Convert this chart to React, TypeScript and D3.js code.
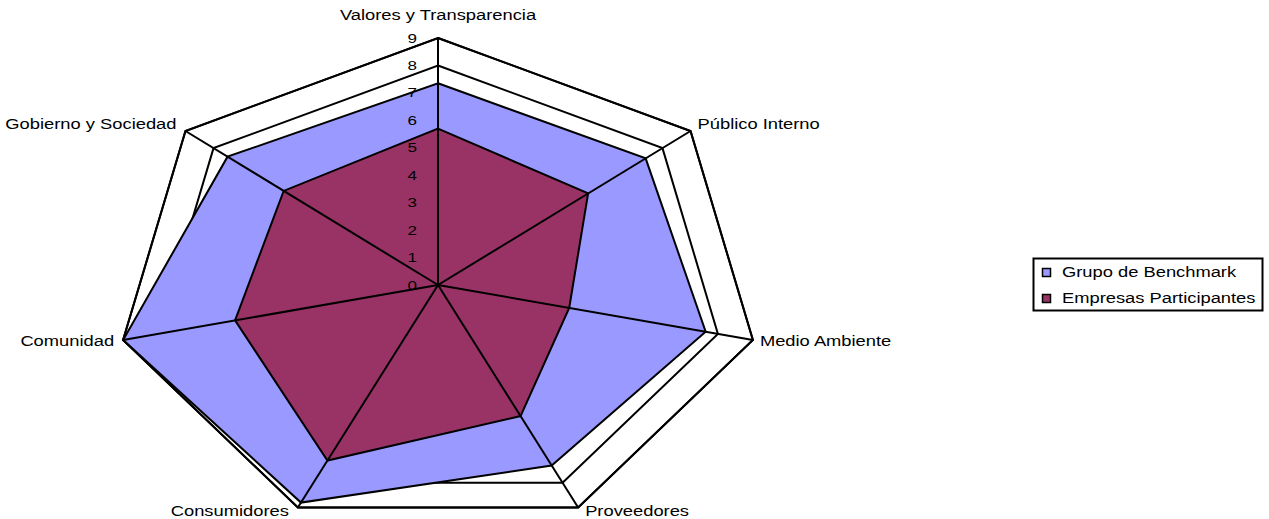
import React from "react";
import * as d3 from "d3";

const categories = [
  "Valores y Transparencia",
  "Público Interno",
  "Medio Ambiente",
  "Proveedores",
  "Consumidores",
  "Comunidad",
  "Gobierno y Sociedad",
];
const benchmark = [7.35, 7.4, 7.65, 7.3, 8.8, 9, 7.5];
const participantes = [5.7, 5.35, 3.75, 5.3, 7.1, 5.8, 5.5];
const tickValues = [0, 1, 2, 3, 4, 5, 6, 7, 8, 9];
const seriesNames = ["Grupo de Benchmark", "Empresas Participantes"];
const seriesColors = ["#9999FF", "#993366"];

const W = 1269;
const H = 519;
const cx = 438;
const cy = 285;
const SX = 1.31;

export default function App() {
  const rx = d3.scaleLinear().domain([0, 9]).range([0, 323]);
  const ry = d3.scaleLinear().domain([0, 9]).range([0, 247]);
  const angle = d3
    .scaleLinear()
    .domain([0, categories.length])
    .range([0, 2 * Math.PI]);

  const pt = (i: number, v: number): [number, number] => [
    cx + rx(v) * Math.sin(angle(i)),
    cy - ry(v) * Math.cos(angle(i)),
  ];
  const line = d3.line<[number, number]>().curve(d3.curveLinearClosed);
  const poly = (vals: number[]) => line(vals.map((v, i) => pt(i, v))) || "";

  const labelPos = (i: number) => {
    const [x, y] = pt(i, 9);
    const s = Math.sin(angle(i));
    const c = Math.cos(angle(i));
    if (Math.abs(s) < 0.01) return { x, y: y - 18, anchor: "middle" };
    const anchor = s > 0 ? "start" : "end";
    const dx = s > 0 ? 7 : -9;
    let dy = 0;
    if (c > 0.3) dy = -2;
    else if (c > -0.5) dy = 6;
    else dy = 8;
    return { x: x + dx, y: y + dy, anchor };
  };

  const font = "'Liberation Sans', Arial, sans-serif";

  return (
    <svg
      width={W}
      height={H}
      style={{ position: "absolute", left: 0, top: 0, background: "#fff" }}
      fontFamily={font}
    >
      {/* grid rings */}
      {tickValues.slice(1).map((t) => (
        <path
          key={t}
          d={poly(categories.map(() => t))}
          fill="none"
          stroke="#000"
          strokeWidth={2}
        />
      ))}
      {/* series */}
      <path d={poly(benchmark)} fill={seriesColors[0]} stroke="#000" strokeWidth={2} strokeLinejoin="miter" />
      <path d={poly(participantes)} fill={seriesColors[1]} stroke="#000" strokeWidth={2} strokeLinejoin="miter" />
      {/* spokes */}
      {categories.map((c, i) => {
        const [x, y] = pt(i, 9);
        return <line key={c} x1={cx} y1={cy} x2={x} y2={y} stroke="#000" strokeWidth={2} />;
      })}
      {/* outer ring redrawn on top */}
      <path d={poly(categories.map(() => 9))} fill="none" stroke="#000" strokeWidth={2} />
      {/* tick labels */}
      {tickValues.map((t) => (
        <text
          key={t}
          transform={`translate(${cx - 21},${cy - ry(t) + 4.5}) scale(${SX},1)`}
          textAnchor="end"
          fontSize={13}
          fill="#000"
        >
          {t}
        </text>
      ))}
      {/* category labels */}
      {categories.map((c, i) => {
        const p = labelPos(i);
        return (
          <text
            key={c}
            transform={`translate(${p.x},${p.y}) scale(${SX},1)`}
            textAnchor={p.anchor as any}
            fontSize={14}
            fill="#000"
          >
            {c}
          </text>
        );
      })}
      {/* legend */}
      <rect x={1033.5} y={258.5} width={229} height={52} fill="#fff" stroke="#000" strokeWidth={2} />
      {seriesNames.map((n, i) => (
        <g key={n}>
          <rect
            x={1042.5}
            y={268.5 + i * 26}
            width={8}
            height={8}
            fill={seriesColors[i]}
            stroke="#000"
            strokeWidth={1.5}
          />
          <text
            transform={`translate(1062,${277 + i * 25.5}) scale(${SX},1)`}
            fontSize={14}
            fill="#000"
          >
            {n}
          </text>
        </g>
      ))}
    </svg>
  );
}
